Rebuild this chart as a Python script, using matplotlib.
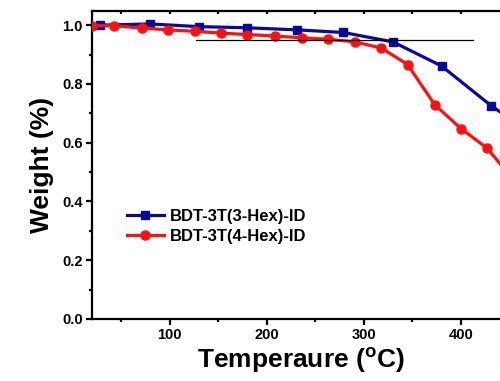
import matplotlib
matplotlib.use("Agg")
import matplotlib.pyplot as plt
from matplotlib.ticker import MultipleLocator

plt.rcParams['font.family'] = ['Liberation Sans', 'DejaVu Sans']

# Data
t_3hex = [28, 80, 130, 180, 231, 279, 330, 380, 431, 460]
w_3hex = [1.000, 1.004, 0.995, 0.991, 0.984, 0.975, 0.943, 0.861, 0.726, 0.66]

t_4hex = [20, 43, 71, 98, 126, 153, 180, 208, 236, 263, 291, 318, 345, 373, 400, 427, 455]
w_4hex = [0.998, 0.998, 0.990, 0.984, 0.979, 0.973, 0.968, 0.963, 0.957, 0.952,
          0.943, 0.922, 0.866, 0.729, 0.648, 0.581, 0.47]

ref_t = [127, 412]
ref_w = [0.95, 0.95]

label_3hex = "BDT-3T(3-Hex)-ID"
label_4hex = "BDT-3T(4-Hex)-ID"

fig = plt.figure(figsize=(5.0, 3.81), dpi=100)
ax = fig.add_axes([0.184, 0.163, 0.835, 0.808])

ax.plot(t_3hex, w_3hex, color='#0a0a9a', lw=2.3, marker='s', ms=6, label=label_3hex, zorder=3)
ax.plot(t_4hex, w_4hex, color='#ff1010', lw=2.3, marker='o', ms=6.5, label=label_4hex, zorder=3)
ax.plot(ref_t, ref_w, color='black', lw=0.9, zorder=4)

ax.set_xlim(20, 450)
ax.set_ylim(0, 1.048)

ax.xaxis.set_major_locator(MultipleLocator(100))
ax.xaxis.set_minor_locator(MultipleLocator(50))
ax.yaxis.set_major_locator(MultipleLocator(0.2))
ax.yaxis.set_minor_locator(MultipleLocator(0.1))
ax.yaxis.set_major_formatter(matplotlib.ticker.FormatStrFormatter('%.1f'))

for s in ax.spines.values():
    s.set_linewidth(1.6)

ax.tick_params(axis='both', which='major', direction='out', length=4.5, width=1.6,
               labelsize=10.5, pad=2)
ax.tick_params(axis='both', which='minor', direction='out', length=2.5, width=1.6)
ax.tick_params(axis='x', which='both', top=True)
for lab in ax.get_xticklabels() + ax.get_yticklabels():
    lab.set_fontweight('bold')
# top ticks point inward
for tk in ax.xaxis.get_major_ticks() + ax.xaxis.get_minor_ticks():
    tk.tick2line.set_marker(matplotlib.lines.TICKDOWN)
    tk.tick2line.set_markersize(2.5)

ax.set_xlabel("Temperaure ($\\mathregular{^{o}}$C)", fontsize=19, fontweight='bold', labelpad=3)
ax.set_ylabel("Weight (%)", fontsize=19, fontweight='bold', labelpad=6)

leg = ax.legend(loc='upper left', bbox_to_anchor=(0.068, 0.38), frameon=False,
                prop={'weight': 'bold', 'size': 12}, handlelength=2.2,
                handletextpad=0.35, labelspacing=0.3, borderaxespad=0)

fig.savefig("out.png", dpi=100)
